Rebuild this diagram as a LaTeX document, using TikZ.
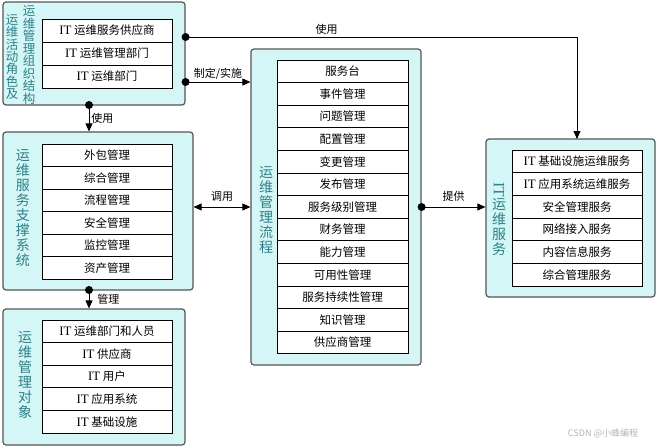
\documentclass[tikz,border=0pt]{standalone}
\usepackage{fontspec}
\usepackage{graphicx}
\setmainfont{Noto Sans CJK SC}
\newfontfamily\latinfont[Scale=1.12]{Liberation Serif}
\usetikzlibrary{arrows.meta,positioning}
\definecolor{boxfill}{HTML}{D4F6F6}
\definecolor{boxline}{HTML}{555555}
\definecolor{labelteal}{HTML}{2E8088}
\newcommand{\IT}{{\latinfont IT}}

\begin{document}
\begin{tikzpicture}[x=1pt,y=-1pt,
	grpbox/.style={draw=boxline,fill=boxfill,line width=1.2pt,rounded corners=3pt,inner sep=0pt},
	cell/.style={draw,fill=white,line width=0.8pt,minimum width=130pt,minimum height=22.6pt,inner sep=0pt,font=\fontsize{11.5}{13}\selectfont},
	vlabel/.style={labelteal,align=center,inner sep=0pt,font=\fontsize{14}{15}\selectfont},
	link/.style={draw,line width=0.8pt,-{Triangle[length=8pt,width=7pt]}},
	lbl/.style={font=\fontsize{11}{12}\selectfont,inner sep=2pt}]
	
	\useasboundingbox (0,0) rectangle (658,447);
	
	% groups
	\node[grpbox,minimum width=182pt,minimum height=103pt] (org) at (94,53.5) {};
	\node[grpbox,minimum width=190pt,minimum height=158pt] (sup) at (98,211) {};
	\node[grpbox,minimum width=182pt,minimum height=136pt] (obj) at (94,377) {};
	\node[grpbox,minimum width=170pt,minimum height=316pt] (proc) at (336,207) {};
	\node[grpbox,minimum width=169pt,minimum height=158pt] (svc) at (570.5,218) {};
	
	% vertical titles
	\node[vlabel,font=\fontsize{12.5}{12.3}\selectfont] (orgL1) at (12,57) {运\\维\\活\\动\\角\\色\\及};
	\node[vlabel,font=\fontsize{12.5}{12.5}\selectfont] (orgL2) at (29,55) {运\\维\\管\\理\\组\\织\\结\\构};
	\node[vlabel] (supL) at (23,208) {运\\维\\服\\务\\支\\撑\\系\\统};
	\node[vlabel] (objL) at (25,375) {运\\维\\管\\理\\对\\象};
	\node[vlabel] (procL) at (266,210) {运\\维\\管\\理\\流\\程};
	\node[vlabel] (svcL) at (499,219) {\rotatebox{-90}{\IT}\\运\\维\\服\\务};
	
	% rows
	\foreach \t [count=\i from 0] in {{\IT\ 运维服务供应商},{\IT\ 运维管理部门},{\IT\ 运维部门}}
		\node[cell,minimum height=23pt] (org-\i) at (107,30.5+23*\i) {\t};
	\foreach \t [count=\i from 0] in {外包管理,综合管理,流程管理,安全管理,监控管理,资产管理}
		\node[cell,minimum height=22.5pt] (sup-\i) at (107,155.25+22.5*\i) {\t};
	\foreach \t [count=\i from 0] in {{\IT\ 运维部门和人员},{\IT\ 供应商},{\IT\ 用户},{\IT\ 应用系统},{\IT\ 基础设施}}
		\node[cell] (obj-\i) at (107,331.3+22.6*\i) {\t};
	\foreach \t [count=\i from 0] in {服务台,事件管理,问题管理,配置管理,变更管理,发布管理,服务级别管理,财务管理,能力管理,可用性管理,服务持续性管理,知识管理,供应商管理}
		\node[cell,minimum width=131pt] (proc-\i) at (342.5,71.3+22.6*\i) {\t};
	\foreach \t [count=\i from 0] in {{\IT\ 基础设施运维服务},{\IT\ 应用系统运维服务},安全管理服务,网络接入服务,内容信息服务,综合管理服务}
		\node[cell,minimum height=22.67pt] (svc-\i) at (577,161.3+22.67*\i) {\t};
	
	% connectors
	\coordinate (orgA) at (org.east |- 0,37);
	\coordinate (orgB) at (org.east |- 0,82);
	\coordinate (orgC) at (89,105);
	\coordinate (supC) at (89,290);
	\coordinate (svcIn) at (577,139);
	\foreach \p in {orgA,orgB,orgC,supC,proc.east}
		\fill (\p) circle (4);
	
	\draw[link] (orgA) -| (svcIn) node[lbl,pos=0.18,above] {使用};
	\draw[link] (orgB) -- (proc.west |- orgB) node[lbl,midway,above] {制定/实施};
	\draw[link] (orgC) -- (sup.north -| orgC) node[lbl,midway,right] {使用};
	\draw[link,{Triangle[length=8pt,width=7pt]}-{Triangle[length=8pt,width=7pt]}] (sup.east |- proc.west) -- (proc.west) node[lbl,midway,above=3pt] {调用};
	\draw[link] (supC) -- (obj.north -| supC) node[lbl,midway,right=6pt] {管理};
	\draw[link] (proc.east) -- (svc.west |- proc.east) node[lbl,midway,above=3pt] {提供};
	
	\node[gray!60,font=\fontsize{9}{10}\selectfont] (mark) at (603,433) {CSDN @小蜂编程};
\end{tikzpicture}
\end{document}
